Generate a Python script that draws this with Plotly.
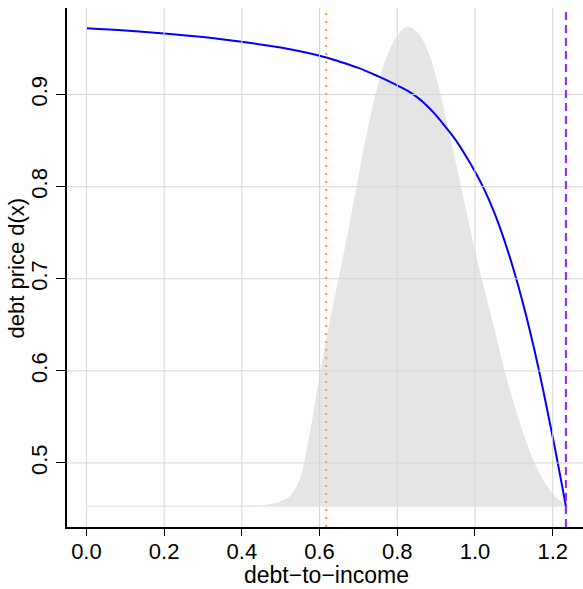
import plotly.graph_objects as go

# debt price curve d(x)
x_price = [0.0, 0.1, 0.2, 0.3, 0.4, 0.5, 0.6, 0.65, 0.7, 0.75, 0.8, 0.825, 0.85, 0.875,
           0.9, 0.925, 0.95, 0.975, 1.0, 1.025, 1.05, 1.075, 1.1, 1.125, 1.15, 1.175,
           1.2, 1.225, 1.234]
debt_price = [0.972, 0.9695, 0.9664, 0.9625, 0.9573, 0.951, 0.9421, 0.936, 0.929, 0.920,
              0.910, 0.9045, 0.8975, 0.8885, 0.8775, 0.8645, 0.8508, 0.8345, 0.8165,
              0.796, 0.7715, 0.7425, 0.709, 0.671, 0.628, 0.580, 0.5285, 0.4735, 0.453]

# scaled density of debt-to-income (top edge of grey area)
x_dens = [0.0, 0.2, 0.4, 0.425, 0.45, 0.475, 0.5, 0.525, 0.55, 0.575, 0.6, 0.625, 0.65,
          0.675, 0.7, 0.725, 0.75, 0.775, 0.8, 0.825, 0.85, 0.875, 0.9, 0.925, 0.95,
          0.975, 1.0, 1.025, 1.05, 1.075, 1.1, 1.125, 1.15, 1.175, 1.2, 1.225, 1.234]
dens_top = [0.453, 0.453, 0.453, 0.4532, 0.4537, 0.455, 0.458, 0.464, 0.482, 0.530,
            0.591, 0.648, 0.700, 0.752, 0.808, 0.862, 0.908, 0.942, 0.963, 0.973, 0.968,
            0.950, 0.917, 0.872, 0.825, 0.776, 0.728, 0.685, 0.643, 0.600, 0.563, 0.530,
            0.502, 0.481, 0.466, 0.456, 0.453]
dens_base = 0.453

x_ticks = [0.0, 0.2, 0.4, 0.6, 0.8, 1.0, 1.2]
x_tick_labels = ["0.0", "0.2", "0.4", "0.6", "0.8", "1.0", "1.2"]
y_ticks = [0.5, 0.6, 0.7, 0.8, 0.9]
y_tick_labels = ["0.5", "0.6", "0.7", "0.8", "0.9"]

x_threshold_low = 0.617   # orange dotted
x_threshold_high = 1.234  # purple dashed

FONT = "Liberation Sans, Arial, Helvetica, sans-serif"
GRID = "#D6D6D6"

fig = go.Figure()

fig.add_trace(go.Scatter(x=x_dens, y=[dens_base] * len(x_dens), mode="lines",
                         line=dict(color="#E5E5E5", width=1), showlegend=False,
                         hoverinfo="skip"))
fig.add_trace(go.Scatter(x=x_dens, y=dens_top, mode="lines", fill="tonexty",
                         fillcolor="#E5E5E5", line=dict(color="#E5E5E5", width=1,
                                                        shape="spline", smoothing=1.0),
                         showlegend=False, hoverinfo="skip"))
fig.add_trace(go.Scatter(x=x_price, y=debt_price, mode="lines",
                         line=dict(color="#0000FF", width=2, shape="spline", smoothing=1.0),
                         showlegend=False))

shapes = []
for xv in x_ticks:
    shapes.append(dict(type="line", xref="x", yref="paper", x0=xv, x1=xv, y0=0, y1=1,
                       line=dict(color=GRID, width=1), layer="above"))
for yv in y_ticks:
    shapes.append(dict(type="line", xref="paper", yref="y", x0=0, x1=1, y0=yv, y1=yv,
                       line=dict(color=GRID, width=1), layer="above"))
shapes.append(dict(type="line", xref="x", yref="paper", x0=x_threshold_low,
                   x1=x_threshold_low, y0=0, y1=1,
                   line=dict(color="#FFA500", width=2, dash="2px,6px"), layer="above"))
shapes.append(dict(type="line", xref="x", yref="paper", x0=x_threshold_high,
                   x1=x_threshold_high, y0=0, y1=1,
                   line=dict(color="#A020F0", width=2, dash="8px,5px"), layer="above"))

fig.update_layout(
    width=583, height=589,
    margin=dict(l=67, r=0, t=8, b=62),
    plot_bgcolor="white", paper_bgcolor="white",
    font=dict(family=FONT, color="black", size=22),
    shapes=shapes,
    xaxis=dict(range=[-0.05, 1.278], tickvals=x_ticks, ticktext=x_tick_labels,
               showgrid=False, zeroline=False, showline=True, linecolor="black",
               linewidth=2, ticks="outside", ticklen=7, tickwidth=1, tickcolor="black",
               ticklabelstandoff=-3,
               tickfont=dict(size=22, family=FONT), automargin=False),
    yaxis=dict(range=[0.4305, 0.994], tickvals=y_ticks, ticktext=y_tick_labels,
               showgrid=False, zeroline=False, showline=True, linecolor="black",
               linewidth=2, ticks="outside", ticklen=9, tickwidth=1, tickcolor="black",
               tickangle=-90, tickfont=dict(size=22, family=FONT), automargin=False),
    annotations=[
        dict(text="debt\u2212to\u2212income", xref="paper", yref="paper", x=0.502, y=-0.093,
             xanchor="center", yanchor="middle", showarrow=False,
             font=dict(size=23, family=FONT)),
        dict(text="debt price d(x)", xref="paper", yref="paper", x=-0.097, y=0.5,
             xanchor="center", yanchor="middle", textangle=-90, showarrow=False,
             font=dict(size=22, family=FONT)),
    ],
)

fig.write_html("out.html")
